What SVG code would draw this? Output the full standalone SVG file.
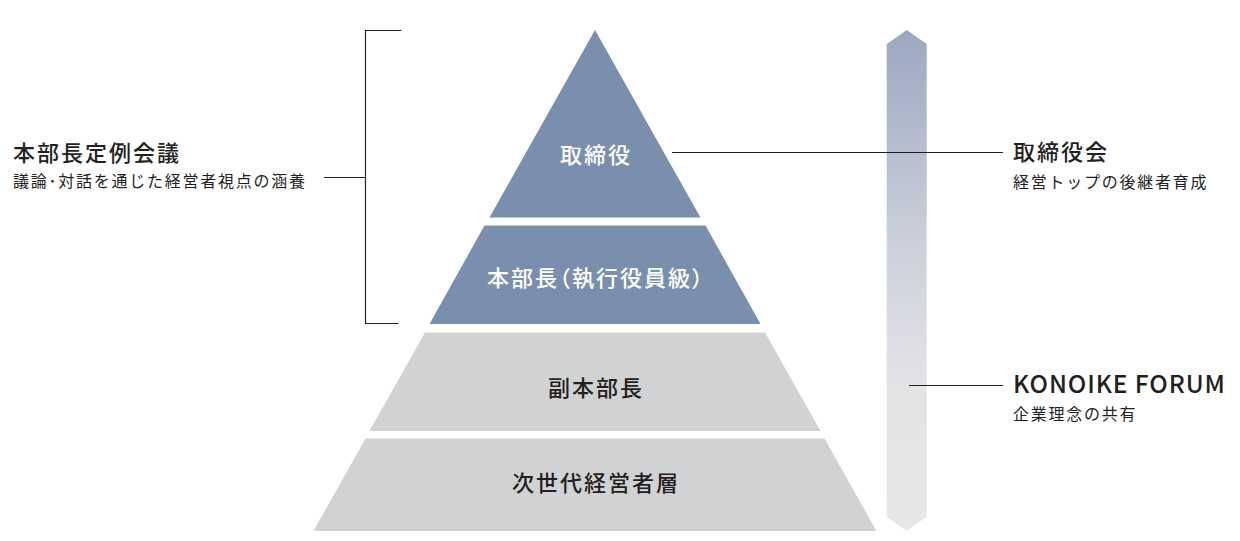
<svg xmlns="http://www.w3.org/2000/svg" width="1240" height="541" viewBox="0 0 1240 541">
<defs>
<linearGradient id="bar" x1="0" y1="30" x2="0" y2="531" gradientUnits="userSpaceOnUse">
<stop offset="0" stop-color="#9ba8c1"/>
<stop offset="0.45" stop-color="#cfd2dc"/>
<stop offset="0.72" stop-color="#e4e4e7"/>
<stop offset="1" stop-color="#e7e7e8"/>
</linearGradient>
<style>
text{font-family:"Noto Sans CJK JP","Noto Sans",sans-serif;fill:#231f20}
.dark{fill:#7a8fae}
.light{fill:#d1d2d4}
.tier{font-size:22px;font-weight:500;letter-spacing:2px;text-anchor:middle;dominant-baseline:central}
.w{fill:#ffffff}
.title{font-size:22px;font-weight:500;letter-spacing:2px}
.sub{font-size:16px;font-weight:400;letter-spacing:1.75px}
.ln{stroke:#231f20;stroke-width:1.2;fill:none}
</style>
</defs>
<rect width="1240" height="541" fill="#ffffff"/>
<g id="bar-node"><polygon points="906.7,30 926.7,44 926.7,516.7 906.7,530.7 886.7,516.7 886.7,44" fill="url(#bar)"/></g>
<g id="tier1"><polygon class="dark" points="595,30 700.5,217.5 489.5,217.5"/><text class="tier w" x="596" y="152.5">取締役</text></g>
<g id="tier2"><polygon class="dark" points="484.5,225.5 705.5,225.5 760.5,324 429.5,324"/><text class="tier w" x="596" y="276" style="font-feature-settings:'palt'">本部長（執行役員級）</text></g>
<g id="tier3"><polygon class="light" points="425,332.5 765,332.5 820.5,431 369.5,431"/><text class="tier" x="596" y="385.5">副本部長</text></g>
<g id="tier4"><polygon class="light" points="365.5,438.5 824.5,438.5 876.5,531 313.5,531"/><text class="tier" x="596" y="480.5">次世代経営者層</text></g>
<g id="connectors">
<polyline class="ln" points="401.5,30.5 365.5,30.5 365.5,323.5 398.5,323.5"/>
<line class="ln" x1="324" y1="177.5" x2="365.5" y2="177.5"/>
<line class="ln" x1="672" y1="152.5" x2="1003" y2="152.5"/>
<line class="ln" x1="909" y1="385.5" x2="1003" y2="385.5"/>
</g>
<g id="left-label"><text class="title" x="13" y="161">本部長定例会議</text><text class="sub" x="13" y="187">議論･対話を通じた経営者視点の涵養</text></g>
<g id="right-label1"><text class="title" x="1013" y="160">取締役会</text><text class="sub" x="1013" y="188">経営トップの後継者育成</text></g>
<g id="right-label2"><text class="title" x="1013" y="393" style="font-size:24.5px;letter-spacing:0.9px">KONOIKE FORUM</text><text class="sub" x="1013" y="420">企業理念の共有</text></g>
</svg>
